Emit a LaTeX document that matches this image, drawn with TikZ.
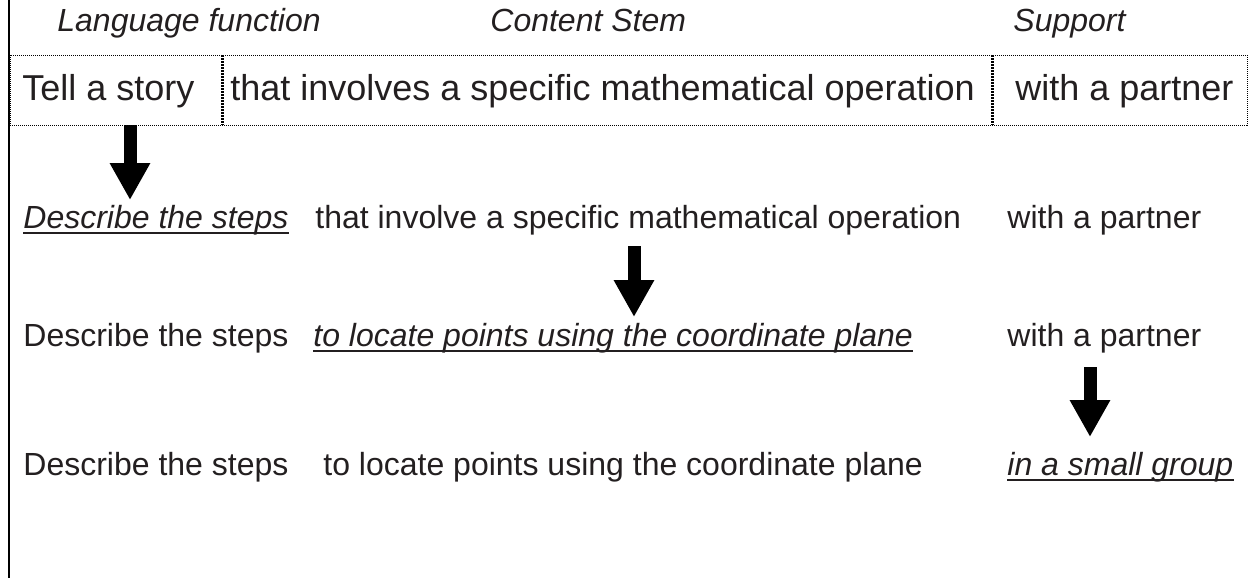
\documentclass[tikz,border=0pt]{standalone}
\usepackage{fontspec}
\setmainfont{Liberation Sans}
\usetikzlibrary{arrows.meta}
\definecolor{inkgray}{RGB}{35,31,32}

\tikzset{
    headtext/.style={font=\fontsize{16}{19}\selectfont\itshape, inner sep=0pt, anchor=base west, text=inkgray},
    celltext/.style={font=\fontsize{18}{22}\selectfont, inner sep=0pt, anchor=base west, text=inkgray},
    rowtext/.style={font=\fontsize{16}{19}\selectfont, inner sep=0pt, anchor=base west, text=inkgray},
    newpart/.style={rowtext, font=\fontsize{16}{19}\selectfont\itshape},
    uline/.style={inkgray, line width=1.3pt},
    fineline/.style={line width=0.5pt, dash pattern=on 0.5pt off 0.5pt},
    divline/.style={line width=1.5pt, dash pattern=on 0.75pt off 0.75pt},
    bigarrow/.style={line width=6.5pt, -{Triangle[length=18.5pt,width=19pt]}},
}

\begin{document}
\begin{tikzpicture}[x=0.5pt, y=-0.5pt]
    \useasboundingbox (0,0) rectangle (1249,578);

    % Frame edge
    \draw[line width=1pt] (9,0) -- (9,578);

    % Column headings
    \node[headtext] (hdLang) at (57,32) {Language function};
    \node[headtext] (hdStem) at (490,32) {Content Stem};
    \node[headtext] (hdSup) at (1013,32) {Support};

    % Original objective in dotted cells
    \draw[fineline] (10,55) rectangle (1247,125);
    \draw[divline] (222,55) -- (222,125);
    \draw[divline] (992,55) -- (992,125);
    \node[celltext] (tLang) at (22,100) {Tell a story};
    \node[celltext] (tStem) at (230,100) {that involves a specific mathematical operation};
    \node[celltext] (tSup) at (1015,100) {with a partner};

    % Change the language function
    \node[newpart] (r2Lang) at (23,228) {Describe the steps};
    \node[rowtext] (r2Stem) at (315,228) {that involve a specific mathematical operation};
    \node[rowtext] (r2Sup) at (1007,228) {with a partner};

    % Change the content stem
    \node[rowtext] (r3Lang) at (23,346) {Describe the steps};
    \node[newpart] (r3Stem) at (313,346) {to locate points using the coordinate plane};
    \node[rowtext] (r3Sup) at (1007,346) {with a partner};

    % Change the support
    \node[rowtext] (r4Lang) at (23,475) {Describe the steps};
    \node[rowtext] (r4Stem) at (323,475) {to locate points using the coordinate plane};
    \node[newpart] (r4Sup) at (1007,475) {in a small group};

    % Underlines
    \draw[uline] ([yshift=-2.5pt]r2Lang.base west) -- ([yshift=-2.5pt]r2Lang.base east);
    \draw[uline] ([yshift=-2.5pt]r3Stem.base west) -- ([yshift=-2.5pt]r3Stem.base east);
    \draw[uline] ([yshift=-2.5pt]r4Sup.base west) -- ([yshift=-2.5pt]r4Sup.base east);

    % Arrows
    \coordinate (a1top) at (130,125);
    \coordinate (a1tip) at (130,200);
    \coordinate (a2top) at (634,246);
    \coordinate (a2tip) at (634,317);
    \coordinate (a3top) at (1090,367);
    \coordinate (a3tip) at (1090,437);
    \draw[bigarrow] (a1top) -- (a1tip);
    \draw[bigarrow] (a2top) -- (a2tip);
    \draw[bigarrow] (a3top) -- (a3tip);
\end{tikzpicture}
\end{document}
